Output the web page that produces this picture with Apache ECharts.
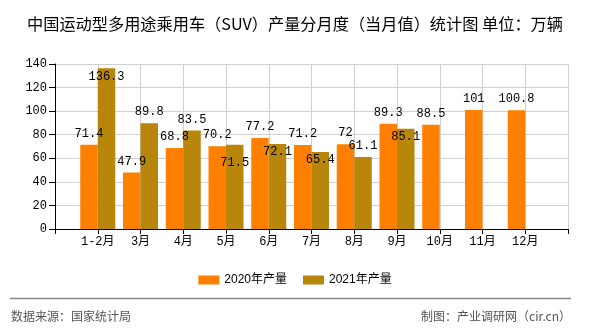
<!DOCTYPE html>
<html><head><meta charset="utf-8">
<script src="https://cdn.jsdelivr.net/npm/echarts@6/dist/echarts.min.js"></script>
<style>html,body{margin:0;padding:0;background:#fff}#c{width:590px;height:330px}</style>
</head><body><div id="c"></div>
<script>
var months = ['1-2月','3月','4月','5月','6月','7月','8月','9月','10月','11月','12月'];
var prod2020 = [71.4, 47.9, 68.8, 70.2, 77.2, 71.2, 72, 89.3, 88.5, 101, 100.8];
var prod2021 = [136.3, 89.8, 83.5, 71.5, 72.1, 65.4, 61.1, 85.1, null, null, null];
var yTicks = [0, 20, 40, 60, 80, 100, 120, 140];
var seriesNames = ['2020年产量', '2021年产量'];
// label vertical shift (px) for 2021 value labels (style only)
var labelShift2021 = [19, 0, 0, 29, 19, 19, 0, 19, 0, 0, 0];

var numFont = "'Liberation Mono','Noto Sans CJK SC',monospace";
var cats = [''].concat(months, ['']);
function pad(a){ return ['-'].concat(a.map(function(v){return v==null?'-':v;}), ['-']); }
var d2020 = pad(prod2020);
var d2021 = pad(prod2021).map(function(v, i){
  if (v === '-') return v;
  var s = labelShift2021[i-1];
  return s ? {value: v, label: {offset: [0, s]}} : v;
});

var chart = echarts.init(document.getElementById('c'), null, {renderer:'canvas'});
chart.setOption({
  animation: false,
  title: {
    text: '中国运动型多用途乘用车（SUV）产量分月度（当月值）统计图 单位：万辆',
    left: 'center', top: 16, padding: 0,
    textStyle: {fontSize: 16.2, fontWeight: 'normal', color: '#000', fontFamily: "'Noto Sans CJK SC'"}
  },
  legend: {
    data: seriesNames, left: 'center', top: 269,
    itemWidth: 21, itemHeight: 9, itemGap: 16,
    icon: 'rect',
    textStyle: {fontSize: 12, color: '#000', fontFamily: "'Liberation Sans','Noto Sans CJK SC'"}
  },
  grid: {left: 55, right: 22, top: 64, bottom: 101, containLabel: false},
  xAxis: {
    type: 'category', data: cats, boundaryGap: false,
    axisLine: {lineStyle: {color: '#000'}},
    axisTick: {length: 5, lineStyle: {color: '#000'}, interval: 0},
    axisLabel: {interval: 0, color: '#000', fontSize: 12, margin: 7, fontFamily: numFont},
    splitLine: {show: true, interval: 0, lineStyle: {color: '#d0d0d0'}}
  },
  yAxis: {
    type: 'value', min: yTicks[0], max: yTicks[yTicks.length-1], interval: yTicks[1]-yTicks[0],
    axisLine: {show: true, lineStyle: {color: '#000'}},
    axisTick: {show: true, length: 6, lineStyle: {color: '#000'}},
    axisLabel: {color: '#000', fontSize: 12, margin: 8, fontFamily: numFont},
    splitLine: {lineStyle: {color: '#d0d0d0'}}
  },
  series: [
    {name: seriesNames[0], type: 'bar', data: d2020, barWidth: 17.5, barGap: '0%',
     itemStyle: {color: '#FF8000'},
     label: {show: true, position: 'top', distance: 5, color: '#000', fontSize: 12, fontFamily: numFont}},
    {name: seriesNames[1], type: 'bar', data: d2021, barWidth: 17.5, barGap: '0%',
     itemStyle: {color: '#B8860B'},
     label: {show: true, position: 'top', distance: 5, color: '#000', fontSize: 12, fontFamily: numFont}}
  ],
  graphic: [
    {type: 'line', shape: {x1: 10, y1: 298.5, x2: 571, y2: 298.5}, style: {stroke: '#888', lineWidth: 1.5}},
    {type: 'text', left: 11, top: 310, style: {text: '数据来源：国家统计局', fontSize: 12, fill: '#555', fontFamily: "'Noto Sans CJK SC'"}},
    {type: 'text', right: 19, top: 310, style: {text: '制图：产业调研网（cir.cn）', fontSize: 12, fill: '#555', fontFamily: "'Noto Sans CJK SC'"}}
  ]
});
</script></body></html>
